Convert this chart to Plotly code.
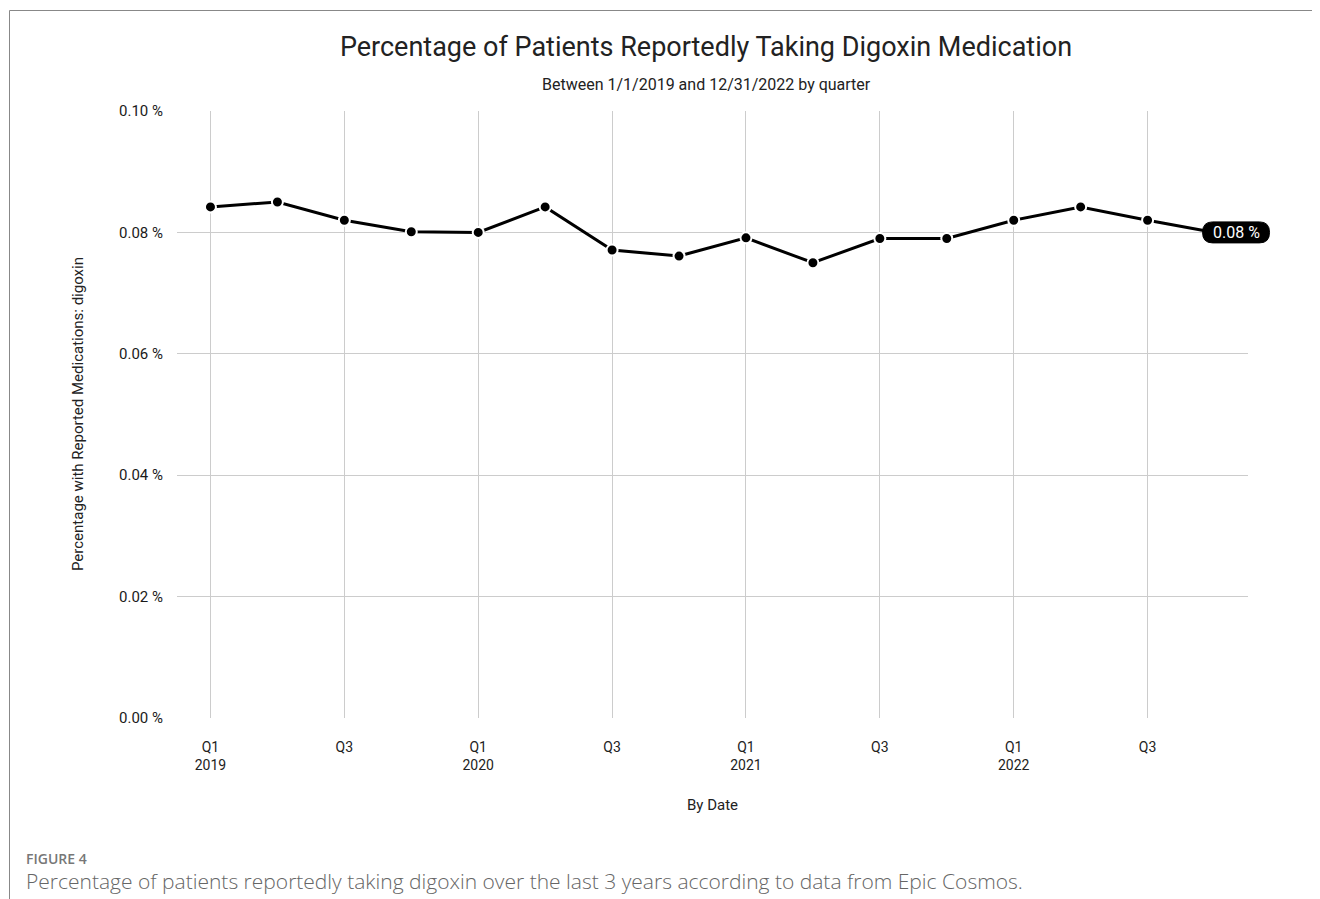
import plotly.graph_objects as go

quarters = ["Q1 2019", "Q2 2019", "Q3 2019", "Q4 2019",
            "Q1 2020", "Q2 2020", "Q3 2020", "Q4 2020",
            "Q1 2021", "Q2 2021", "Q3 2021", "Q4 2021",
            "Q1 2022", "Q2 2022", "Q3 2022", "Q4 2022"]
pct_digoxin = [0.0842, 0.0850, 0.0820, 0.0801,
               0.0800, 0.0842, 0.0771, 0.0761,
               0.0791, 0.0750, 0.0790, 0.0790,
               0.0820, 0.0842, 0.0820, 0.0800]
tick_idx = [0, 2, 4, 6, 8, 10, 12, 14]
tick_labels = ["Q1<br>2019", "Q3", "Q1<br>2020", "Q3", "Q1<br>2021", "Q3", "Q1<br>2022", "Q3"]
y_ticks = [0.0, 0.02, 0.04, 0.06, 0.08, 0.10]
y_tick_labels = ["%.2f %%" % v for v in y_ticks]

x_idx = list(range(len(quarters)))
x_range = [-0.5, len(quarters) - 0.5]
y_range = [0, 0.10]

# page has an 8px body margin; work in page pixel coords and convert
OFF = 8
W, H = 1312, 891
L, T = 177 - OFF, 111 - OFF
pw, ph = 1071, 607
R = W - L - pw
B = H - T - ph

def px_x(p):
    return (p - OFF - L) / pw

def px_y(p):
    return (H - B - (p - OFF)) / ph

fig = go.Figure()
fig.add_trace(go.Scatter(
    x=x_idx, y=pct_digoxin, mode="lines+markers",
    line=dict(color="black", width=3),
    marker=dict(color="black", size=11, line=dict(color="white", width=2)),
    text=quarters, hoverinfo="text+y", showlegend=False,
    cliponaxis=False,
))

fig.update_layout(
    width=W, height=H,
    margin=dict(l=L, r=R, t=T, b=B, pad=0),
    paper_bgcolor="white", plot_bgcolor="white",
    font=dict(family="Roboto", color="#222"),
    title=dict(text="Percentage of Patients Reportedly Taking Digoxin Medication",
               x=(706 - OFF) / W, xanchor="center", y=1 - (47 - OFF) / H, yanchor="middle",
               font=dict(family="Roboto", size=27, color="#222")),
    xaxis=dict(range=x_range, tickvals=tick_idx, ticktext=tick_labels,
               showgrid=True, gridcolor="#cccccc", gridwidth=1,
               zeroline=False, showline=False, ticks="outside", ticklen=16,
               tickcolor="rgba(0,0,0,0)",
               tickfont=dict(size=14, color="#222"), fixedrange=True),
    yaxis=dict(range=y_range, tickvals=y_ticks, ticktext=y_tick_labels,
               showgrid=True, gridcolor="#cccccc", gridwidth=1,
               zeroline=False, showline=False, ticks="outside", ticklen=10,
               tickcolor="rgba(0,0,0,0)",
               tickfont=dict(size=15, color="#1a1a1a"), fixedrange=True),
)

# end-of-series label: rounded pill anchored at the last data point (paper refs, so not clipped)
last_val = pct_digoxin[-1]
last_px = (x_idx[-1] - x_range[0]) / (x_range[1] - x_range[0])
last_py = (last_val - y_range[0]) / (y_range[1] - y_range[0])
pill = ("M -2,-10.5 L 45,-10.5 Q 55,-10.5 55,0 Q 55,10.5 45,10.5 "
        "L -2,10.5 Q -12,10.5 -12,0 Q -12,-10.5 -2,-10.5 Z")
fig.add_shape(type="path", xref="paper", yref="paper",
              xsizemode="pixel", ysizemode="pixel",
              xanchor=last_px, yanchor=last_py, path=pill,
              fillcolor="black", line=dict(color="black", width=1), layer="above")
fig.add_annotation(
    x=last_px, y=last_py, xref="paper", yref="paper",
    text="%.2f %%" % last_val, showarrow=False,
    xanchor="center", xshift=21.5, yanchor="middle",
    font=dict(family="Roboto", size=16, color="white"),
)

annots = [
    dict(text="Between 1/1/2019 and 12/31/2022 by quarter", x=706, y=84, size=16, angle=0),
    dict(text="Percentage with Reported Medications: digoxin", x=78, y=414, size=15, angle=-90),
    dict(text="By Date", x=712, y=805, size=15, angle=0),
]
for a in annots:
    fig.add_annotation(text=a["text"], x=px_x(a["x"]), y=px_y(a["y"]), xref="paper", yref="paper",
                       showarrow=False, xanchor="center", yanchor="middle",
                       textangle=a["angle"],
                       font=dict(family="Roboto", size=a["size"], color="#222"))

fig.add_annotation(text="FIGURE 4", x=px_x(26), y=px_y(858), xref="paper", yref="paper",
                   showarrow=False, xanchor="left", yanchor="middle", xshift=-2,
                   font=dict(family="Open Sans", size=14, color="#777", weight=600))
fig.add_annotation(text="Percentage of patients reportedly taking digoxin over the last 3 years according to data from Epic Cosmos.",
                   x=px_x(26), y=px_y(881), xref="paper", yref="paper",
                   showarrow=False, xanchor="left", yanchor="middle", xshift=-2,
                   font=dict(family="Open Sans", size=21, color="#666", weight=300))

# frame lines (left and top)
fig.add_shape(type="line", xref="paper", yref="paper",
              x0=px_x(9.5), y0=px_y(10.5), x1=px_x(1330), y1=px_y(10.5),
              line=dict(color="#888", width=1))
fig.add_shape(type="line", xref="paper", yref="paper",
              x0=px_x(9.5), y0=px_y(10.5), x1=px_x(9.5), y1=px_y(910),
              line=dict(color="#888", width=1))

fig.write_html("out.html")
